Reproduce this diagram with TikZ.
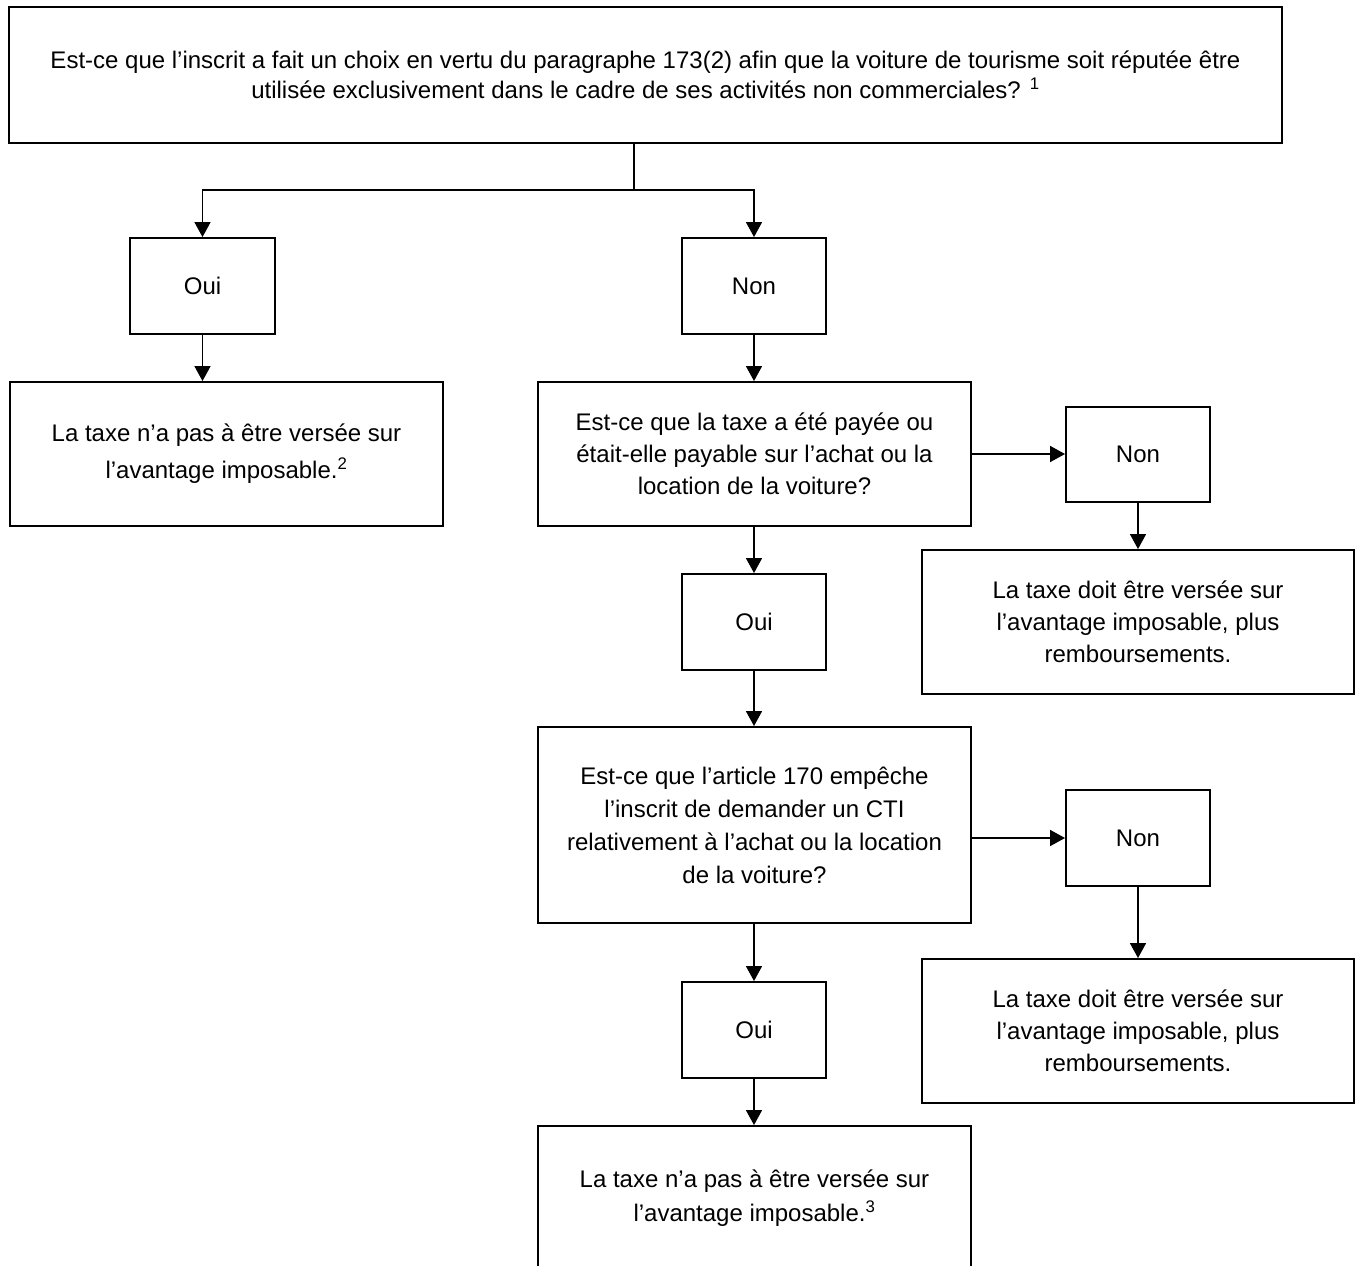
\documentclass[tikz,border=0pt]{standalone}
\usepackage{fontspec}
\setmainfont{Liberation Sans}
\usetikzlibrary{arrows.meta}

\begin{document}
\begin{tikzpicture}[x=1pt,y=-1pt,
  every node/.style={font=\fontsize{24}{32}\selectfont},
  box/.style={draw, line width=1.9pt, rectangle, inner sep=0pt, align=center},
  topbox/.style={box, line width=2.4pt},
  small/.style={box, minimum width=144pt, minimum height=96pt},
  wide/.style={box, minimum width=433pt, minimum height=144pt},
  link/.style={line width=1.5pt},
  flow/.style={link, -{Triangle[width=16pt,length=15pt]}}
]
\clip (0,0) rectangle (1360,1266);
\fill[white] (0,0) rectangle (1360,1266);

% question at the top
\node[topbox, minimum width=1273pt, minimum height=136pt,
      font=\fontsize{24}{30}\selectfont] (top) at (645.5,75)
  {Est-ce que l’inscrit a fait un choix en vertu du paragraphe 173(2) afin que la voiture de tourisme soit réputée être\\
   utilisée exclusivement dans le cadre de ses activités non commerciales? \textsuperscript{1}};

% left branch
\node[small, minimum width=145pt] (oui1) at (202.5,286) {Oui};
\node[wide, font=\fontsize{24}{37}\selectfont] (res1) at (226.5,454)
  {La taxe n’a pas à être versée sur\\ l’avantage imposable.\textsuperscript{2}};

% right branch
\node[small] (non1) at (754,286) {Non};
\node[wide] (q2) at (754.5,454)
  {Est-ce que la taxe a été payée ou\\ était-elle payable sur l’achat ou la\\ location de la voiture?};
\node[small, minimum height=95pt] (non2) at (1138,454.5) {Non};
\node[wide, minimum width=432pt] (res2) at (1138,622)
  {La taxe doit être versée sur\\ l’avantage imposable, plus\\ remboursements.};
\node[small] (oui2) at (754,622) {Oui};
\node[wide, minimum height=196pt, font=\fontsize{24}{33}\selectfont] (q3) at (754.5,825)
  {Est-ce que l’article 170 empêche\\ l’inscrit de demander un CTI\\ relativement à l’achat ou la location\\ de la voiture?};
\node[small] (non3) at (1138,838) {Non};
\node[wide, minimum width=432pt] (res3) at (1138,1031)
  {La taxe doit être versée sur\\ l’avantage imposable, plus\\ remboursements.};
\node[small] (oui3) at (754,1030) {Oui};
\node[wide, font=\fontsize{24}{34}\selectfont] (fin) at (754.5,1198)
  {La taxe n’a pas à être versée sur\\ l’avantage imposable.\textsuperscript{3}};

% connectors
\coordinate (split) at (634,190);
\draw[link] (top.south -| split) -- (split);
\draw[flow] (split) -| (oui1.north);
\draw[flow] (split) -| (non1.north);
\draw[flow] (oui1.south) -- (oui1.south |- res1.north);
\draw[flow] (non1.south) -- (non1.south |- q2.north);
\draw[flow] (q2.east) -- (q2.east -| non2.west);
\draw[flow] (non2.south) -- (non2.south |- res2.north);
\draw[flow] (oui2.north |- q2.south) -- (oui2.north);
\draw[flow] (oui2.south) -- (oui2.south |- q3.north);
\draw[flow] (q3.east |- non3.west) -- (non3.west);
\draw[flow] (non3.south) -- (non3.south |- res3.north);
\draw[flow] (oui3.north |- q3.south) -- (oui3.north);
\draw[flow] (oui3.south) -- (oui3.south |- fin.north);
\end{tikzpicture}
\end{document}
